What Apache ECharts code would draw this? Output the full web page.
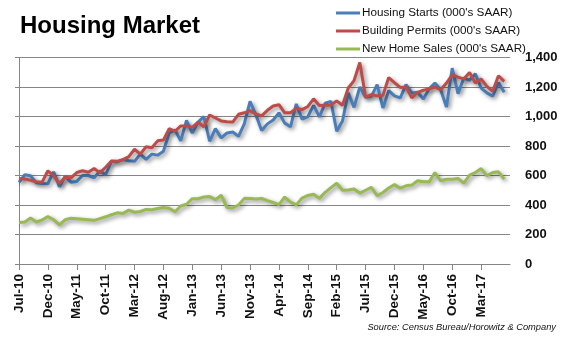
<!DOCTYPE html>
<html>
<head>
<meta charset="utf-8">
<script src="https://cdn.jsdelivr.net/npm/echarts@6/dist/echarts.min.js"></script>
<style>
html,body{margin:0;padding:0;background:#fff;}
#chart{width:563px;height:337px;}
</style>
</head>
<body>
<div id="chart"></div>
<script>
const months = [
 'Jul-10','Aug-10','Sep-10','Oct-10','Nov-10','Dec-10',
 'Jan-11','Feb-11','Mar-11','Apr-11','May-11','Jun-11','Jul-11','Aug-11','Sep-11','Oct-11','Nov-11','Dec-11',
 'Jan-12','Feb-12','Mar-12','Apr-12','May-12','Jun-12','Jul-12','Aug-12','Sep-12','Oct-12','Nov-12','Dec-12',
 'Jan-13','Feb-13','Mar-13','Apr-13','May-13','Jun-13','Jul-13','Aug-13','Sep-13','Oct-13','Nov-13','Dec-13',
 'Jan-14','Feb-14','Mar-14','Apr-14','May-14','Jun-14','Jul-14','Aug-14','Sep-14','Oct-14','Nov-14','Dec-14',
 'Jan-15','Feb-15','Mar-15','Apr-15','May-15','Jun-15','Jul-15','Aug-15','Sep-15','Oct-15','Nov-15','Dec-15',
 'Jan-16','Feb-16','Mar-16','Apr-16','May-16','Jun-16','Jul-16','Aug-16','Sep-16','Oct-16','Nov-16','Dec-16',
 'Jan-17','Feb-17','Mar-17','Apr-17','May-17','Jun-17','Jul-17','Aug-17'
];

const housingStarts = [
 553,605,598,550,545,544,625,524,596,555,560,600,600,584,630,605,697,692,708,700,
 696,745,710,745,738,764,888,908,835,973,888,962,1000,832,918,855,888,895,865,950,
 1102,1012,905,950,976,1025,955,930,1085,982,998,1075,998,1090,1103,900,969,1160,1062,1200,
 1130,1137,1216,1058,1175,1140,1126,1216,1160,1164,1119,1187,1227,1182,1065,1328,1155,1261,1245,1290,
 1193,1160,1137,1230,1164
];

const buildingPermits = [
 580,577,568,558,555,632,598,545,588,584,620,632,622,648,618,656,698,696,708,728,
 778,745,795,788,835,840,918,900,936,936,926,962,930,1010,990,970,965,962,1015,1025,
 1040,1018,1004,1042,1071,1080,1025,1025,1055,1047,1068,1120,1075,1077,1078,1106,1076,1193,1243,1366,
 1132,1148,1140,1143,1264,1229,1197,1200,1126,1164,1178,1187,1200,1182,1227,1283,1267,1254,1299,1227,
 1254,1204,1171,1276,1238
];

const newHomeSales = [
 282,285,312,285,298,322,300,266,300,310,307,304,300,296,308,320,334,347,343,365,
 351,356,370,368,376,383,378,354,393,405,443,442,454,457,436,466,383,380,400,445,
 444,441,444,430,417,403,454,420,401,447,465,473,445,486,518,547,500,502,508,481,
 500,519,463,485,515,538,514,530,535,564,557,557,620,564,575,575,580,548,602,620,
 647,598,620,625,575
];

const seriesNames = ["Housing Starts (000's SAAR)", "Building Permits (000's SAAR)", "New Home Sales (000's SAAR)"];
const seriesColors = ['#4A7EBB', '#BE4B48', '#98B954'];
const yTicks = [0, 200, 400, 600, 800, 1000, 1200, 1400];

const lastIdx = months.length - 1;
const showEvery5 = function(idx){ return idx % 5 === 0 && idx < lastIdx; };

const chart = echarts.init(document.getElementById('chart'));
const shadow = {shadowColor:'rgba(0,0,0,0.45)', shadowBlur:4, shadowOffsetX:2, shadowOffsetY:2};
function mk(name, data, color){
  return {
    name: name, type:'line', data:data, symbol:'none', smooth:false,
    yAxisIndex:0,
    lineStyle: Object.assign({color:color, width:3}, shadow),
    itemStyle:{color:color},
    animation:false
  };
}
chart.setOption({
  animation:false,
  title:{
    text:'Housing Market', left:15, top:9,
    textStyle:{fontFamily:'Liberation Sans', fontWeight:'bold', fontSize:24, color:'#000'}
  },
  legend:{
    orient:'vertical', left:331, top:2, itemGap:6,
    icon:'rect', itemWidth:24, itemHeight:3,
    textStyle:{fontFamily:'Liberation Sans', fontSize:11.7, color:'#111', padding:[0,0,0,-3]},
    data: seriesNames
  },
  grid:{left:19, right:53, top:57.5, bottom:73},
  xAxis:{
    type:'category', data:months, boundaryGap:false,
    axisLine:{lineStyle:{color:'#868686', width:1}},
    axisTick:{show:true, interval:showEvery5, length:6, lineStyle:{color:'#868686'}},
    axisLabel:{interval:showEvery5, rotate:90, margin:10, fontFamily:'Liberation Sans', fontWeight:'bold', fontSize:13.5, color:'#111'},
    splitLine:{show:false}
  },
  yAxis:[{
    type:'value', min:yTicks[0], max:yTicks[yTicks.length-1], interval:200, position:'left',
    axisLine:{show:true, lineStyle:{color:'#868686'}},
    axisTick:{show:true, length:4, lineStyle:{color:'#868686'}},
    axisLabel:{show:false},
    splitLine:{show:true, lineStyle:{color:'#868686', width:1}}
  },{
    type:'value', min:yTicks[0], max:yTicks[yTicks.length-1], interval:200, position:'right',
    axisLine:{show:false}, axisTick:{show:false},
    splitLine:{show:false},
    axisLabel:{margin:15, fontFamily:'Liberation Sans', fontWeight:'bold', fontSize:13, color:'#111',
      formatter:function(v){return v.toLocaleString('en-US');}}
  }],
  series:[
    mk(seriesNames[0], housingStarts, seriesColors[0]),
    mk(seriesNames[1], buildingPermits, seriesColors[1]),
    mk(seriesNames[2], newHomeSales, seriesColors[2])
  ],
  graphic:[{
    type:'text', right:7, top:323,
    style:{text:'Source: Census Bureau/Horowitz & Company', font:'italic 9.3px "Liberation Sans"', fill:'#111'}
  }]
});
</script>
</body>
</html>
